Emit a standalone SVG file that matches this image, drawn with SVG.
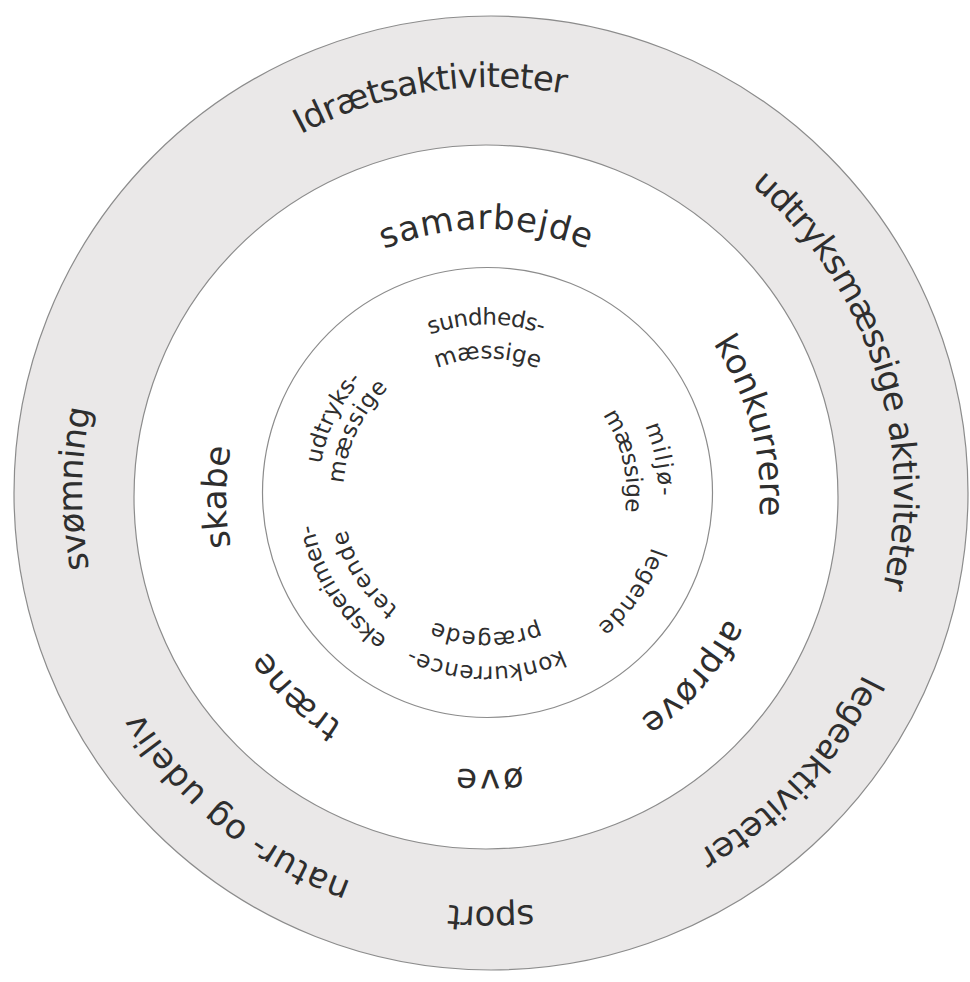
<svg xmlns="http://www.w3.org/2000/svg" xmlns:xlink="http://www.w3.org/1999/xlink" width="970" height="982" viewBox="0 0 970 982">
<style>
.ring{stroke:#8c8c8c;stroke-width:1.2}
.big{font-family:"DejaVu Sans","Liberation Sans",sans-serif;font-size:34px;fill:#2e2e2e}
.small{font-family:"DejaVu Sans","Liberation Sans",sans-serif;font-size:23px;fill:#2e2e2e}
text{text-anchor:middle}
</style>
<defs>
<path id="r403" d="M-401.47,-35.12 A403,403 0 0 1 401.47,-35.12"/>
<path id="r406" d="M-404.46,-35.39 A406,406 0 0 1 404.46,-35.39"/>
<path id="r409" d="M-407.44,-35.65 A409,409 0 0 1 407.44,-35.65"/>
<path id="r413" d="M-411.43,-36.00 A413,413 0 0 1 411.43,-36.00"/>
<path id="r414" d="M-412.42,-36.08 A414,414 0 0 1 412.42,-36.08"/>
<path id="r260" d="M-259.01,-22.66 A260,260 0 0 1 259.01,-22.66"/>
<path id="r268" d="M-266.98,-23.36 A268,268 0 0 1 266.98,-23.36"/>
<path id="r270" d="M-268.97,-23.53 A270,270 0 0 1 268.97,-23.53"/>
<path id="r273" d="M-271.96,-23.79 A273,273 0 0 1 271.96,-23.79"/>
<path id="r274" d="M-272.96,-23.88 A274,274 0 0 1 272.96,-23.88"/>
<path id="r134" d="M-133.49,-11.68 A134,134 0 0 1 133.49,-11.68"/>
<path id="r139" d="M-138.47,-12.11 A139,139 0 0 1 138.47,-12.11"/>
<path id="r140" d="M-139.47,-12.20 A140,140 0 0 1 139.47,-12.20"/>
<path id="r144" d="M-143.45,-12.55 A144,144 0 0 1 143.45,-12.55"/>
<path id="r146" d="M-145.44,-12.72 A146,146 0 0 1 145.44,-12.72"/>
<path id="r168" d="M-167.36,-14.64 A168,168 0 0 1 167.36,-14.64"/>
<path id="r169" d="M-168.36,-14.73 A169,169 0 0 1 168.36,-14.73"/>
<path id="r171" d="M-170.35,-14.90 A171,171 0 0 1 170.35,-14.90"/>
<path id="r173" d="M-172.34,-15.08 A173,173 0 0 1 172.34,-15.08"/>
<path id="r174" d="M-173.34,-15.17 A174,174 0 0 1 173.34,-15.17"/>
<path id="r177" d="M-176.33,-15.43 A177,177 0 0 1 176.33,-15.43"/>
</defs>
<rect width="970" height="982" fill="#ffffff"/>
<g id="rings">
<circle id="outer-ring" class="ring" cx="491" cy="493" r="477" fill="#eae8e8"/>
<circle id="middle-ring" class="ring" cx="486" cy="497" r="352" fill="#ffffff"/>
<circle id="inner-ring" class="ring" cx="487.5" cy="492.5" r="225" fill="#ffffff"/>
</g>
<g id="outer-labels" class="big">
<g id="idraetsaktiviteter" transform="translate(491 493) rotate(351.3)"><text><textPath href="#r406" xlink:href="#r406" startOffset="50%" textLength="273" lengthAdjust="spacing">Idrætsaktiviteter</textPath></text></g>
<g id="udtryksmaessige-aktiviteter" transform="translate(491 493) rotate(71.9)"><text><textPath href="#r403" xlink:href="#r403" startOffset="50%" textLength="446" lengthAdjust="spacing">udtryksmæssige aktiviteter</textPath></text></g>
<g id="legeaktiviteter" transform="translate(491 493) rotate(133)"><text><textPath href="#r414" xlink:href="#r414" startOffset="50%" textLength="246" lengthAdjust="spacing">legeaktiviteter</textPath></text></g>
<g id="sport" transform="translate(491 493) rotate(180)"><text><textPath href="#r414" xlink:href="#r414" startOffset="50%" textLength="85" lengthAdjust="spacing">sport</textPath></text></g>
<g id="natur-og-udeliv" transform="translate(491 493) rotate(218.9)"><text><textPath href="#r413" xlink:href="#r413" startOffset="50%" textLength="276" lengthAdjust="spacing">natur- og udeliv</textPath></text></g>
<g id="svomning" transform="translate(491 493) rotate(270.6)"><text><textPath href="#r409" xlink:href="#r409" startOffset="50%" textLength="161" lengthAdjust="spacing">svømning</textPath></text></g>
</g>
<g id="middle-labels" class="big">
<g id="samarbejde" transform="translate(486 497) rotate(0)"><text><textPath href="#r268" xlink:href="#r268" startOffset="50%" textLength="209" lengthAdjust="spacing">samarbejde</textPath></text></g>
<g id="konkurrere" transform="translate(486 497) rotate(75)"><text><textPath href="#r274" xlink:href="#r274" startOffset="50%" textLength="182" lengthAdjust="spacing">konkurrere</textPath></text></g>
<g id="afprove" transform="translate(486 497) rotate(131)"><text><textPath href="#r270" xlink:href="#r270" startOffset="50%" textLength="135" lengthAdjust="spacing">afprøve</textPath></text></g>
<g id="ove" transform="translate(486 497) rotate(179.2)"><text><textPath href="#r273" xlink:href="#r273" startOffset="50%" textLength="66" lengthAdjust="spacing">øve</textPath></text></g>
<g id="traene" transform="translate(486 497) rotate(223.7)"><text><textPath href="#r268" xlink:href="#r268" startOffset="50%" textLength="106" lengthAdjust="spacing">træne</textPath></text></g>
<g id="skabe" transform="translate(486 497) rotate(270)"><text><textPath href="#r260" xlink:href="#r260" startOffset="50%" textLength="100" lengthAdjust="spacing">skabe</textPath></text></g>
</g>
<g id="inner-labels" class="small">
<g id="sundhedsmaessige" transform="translate(487.5 492.5)">
<g transform="rotate(359.6)"><text><textPath href="#r168" xlink:href="#r168" startOffset="50%" textLength="115" lengthAdjust="spacing">sundheds-</textPath></text></g>
<g transform="rotate(0)"><text><textPath href="#r134" xlink:href="#r134" startOffset="50%" textLength="104" lengthAdjust="spacing">mæssige</textPath></text></g>
</g>
<g id="miljomaessige" transform="translate(487.5 492.5)">
<g transform="rotate(79)"><text><textPath href="#r171" xlink:href="#r171" startOffset="50%" textLength="72" lengthAdjust="spacing">miljø-</textPath></text></g>
<g transform="rotate(77)"><text><textPath href="#r139" xlink:href="#r139" startOffset="50%" textLength="102" lengthAdjust="spacing">mæssige</textPath></text></g>
</g>
<g id="legende" transform="translate(487.5 492.5) rotate(124.5)"><text><textPath href="#r173" xlink:href="#r173" startOffset="50%" textLength="97" lengthAdjust="spacing">legende</textPath></text></g>
<g id="konkurrencepraegede" transform="translate(487.5 492.5)">
<g transform="rotate(180.4)"><text><textPath href="#r174" xlink:href="#r174" startOffset="50%" textLength="156" lengthAdjust="spacing">konkurrence-</textPath></text></g>
<g transform="rotate(180.5)"><text><textPath href="#r140" xlink:href="#r140" startOffset="50%" textLength="108" lengthAdjust="spacing">prægede</textPath></text></g>
</g>
<g id="eksperimenterende" transform="translate(487.5 492.5)">
<g transform="rotate(237)"><text><textPath href="#r177" xlink:href="#r177" startOffset="50%" textLength="140" lengthAdjust="spacing">eksperimen-</textPath></text></g>
<g transform="rotate(236.5)"><text><textPath href="#r146" xlink:href="#r146" startOffset="50%" textLength="96" lengthAdjust="spacing">terende</textPath></text></g>
</g>
<g id="udtryksmaessige" transform="translate(487.5 492.5)">
<g transform="rotate(295.8)"><text><textPath href="#r169" xlink:href="#r169" startOffset="50%" textLength="95" lengthAdjust="spacing">udtryks-</textPath></text></g>
<g transform="rotate(295)"><text><textPath href="#r144" xlink:href="#r144" startOffset="50%" textLength="108" lengthAdjust="spacing">mæssige</textPath></text></g>
</g>
</g>
</svg>
